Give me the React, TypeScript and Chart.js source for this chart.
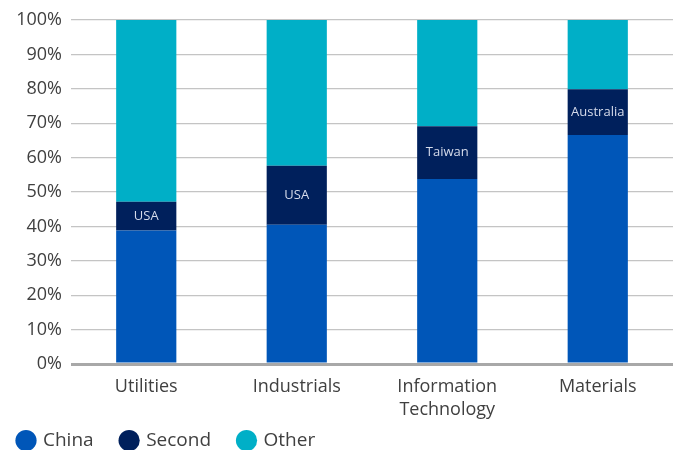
import React, { useEffect, useRef } from 'react';
import { Chart, registerables } from 'chart.js';

Chart.register(...registerables);

const categories = [['Utilities'], ['Industrials'], ['Information', 'Technology'], ['Materials']];
const seriesNames = ['China', 'Second', 'Other'];
const chinaShare = [38.8, 40.5, 53.8, 66.6];
const secondShare = [8.4, 17.1, 15.3, 13.3];
const otherShare = [52.8, 42.4, 30.9, 20.1];
const secondNames = ['USA', 'USA', 'Taiwan', 'Australia'];
const seriesColors = ['#0056b8', '#00205c', '#00afc7'];

const FONT = "'Open Sans', sans-serif";

const secondLabelPlugin = {
  id: 'secondLabels',
  afterDatasetsDraw(chart: any) {
    const meta = chart.getDatasetMeta(1);
    const ctx = chart.ctx;
    ctx.save();
    ctx.font = `13px ${FONT}`;
    ctx.fillStyle = '#d5dbeb';
    ctx.textAlign = 'center';
    ctx.textBaseline = 'middle';
    meta.data.forEach((bar: any, i: number) => {
      const { x, y, base } = bar.getProps(['x', 'y', 'base'], true);
      ctx.fillText(secondNames[i], x, (y + base) / 2);
    });
    ctx.restore();
  },
};

const legendPlacement = {
  id: 'legendPlacement',
  beforeInit(chart: any) {
    const legend = chart.legend;
    if (!legend) return;
    const origFit = legend.fit;
    legend.fit = function () {
      origFit.call(this);
      this.height = 28;
    };
  },
  afterLayout(chart: any) {
    const legend = chart.legend;
    if (!legend) return;
    legend.top = chart.height - 47;
    legend.left = -9.5;
  },
};

export default function App() {
  const ref = useRef<HTMLCanvasElement | null>(null);
  useEffect(() => {
    if (!ref.current) return;
    const chart = new Chart(ref.current, {
      type: 'bar',
      data: {
        labels: categories as any,
        datasets: [
          { label: seriesNames[0], data: chinaShare, backgroundColor: seriesColors[0] },
          { label: seriesNames[1], data: secondShare, backgroundColor: seriesColors[1] },
          { label: seriesNames[2], data: otherShare, backgroundColor: seriesColors[2] },
        ],
      },
      options: {
        animation: false,
        responsive: true,
        maintainAspectRatio: false,
        layout: { padding: { top: 20, right: 9, left: 0, bottom: 0 } },
        datasets: { bar: { barPercentage: 0.4, categoryPercentage: 1 } },
        scales: {
          x: {
            stacked: true,
            grid: { display: false, drawTicks: false },
            border: { display: false },
            ticks: { color: '#404040', font: { family: FONT, size: 18, lineHeight: 1.25 }, padding: 12, maxRotation: 0 },
            afterFit(scale: any) { scale.height = 58; },
          },
          y: {
            stacked: true,
            min: 0,
            max: 100,
            border: { display: false },
            grid: {
              drawTicks: false,
              color: (c: any) => (c.tick && c.tick.value === 0 ? '#a8a8a8' : '#c4c4c4'),
              lineWidth: (c: any) => (c.tick && c.tick.value === 0 ? 3 : 1.3),
            },
            ticks: {
              stepSize: 10,
              padding: 9,
              color: '#404040',
              font: { family: FONT, size: 18 },
              callback: (v: any) => `${v}%`,
            },
            afterFit(scale: any) { scale.width = 71; },
          },
        },
        plugins: {
          tooltip: { enabled: false },
          legend: {
            position: 'bottom',
            align: 'start',
            labels: {
              usePointStyle: true,
              pointStyle: 'circle',
              boxWidth: 15,
              boxHeight: 15,
              padding: 28,
              color: '#404040',
              font: { family: FONT, size: 19 },
            },
          },
        },
      },
      plugins: [secondLabelPlugin, legendPlacement],
    } as any);
    return () => chart.destroy();
  }, []);
  return (
    <div style={{ position: 'fixed', left: 0, top: 0, width: 682, height: 450 }}>
      <canvas ref={ref} />
    </div>
  );
}
